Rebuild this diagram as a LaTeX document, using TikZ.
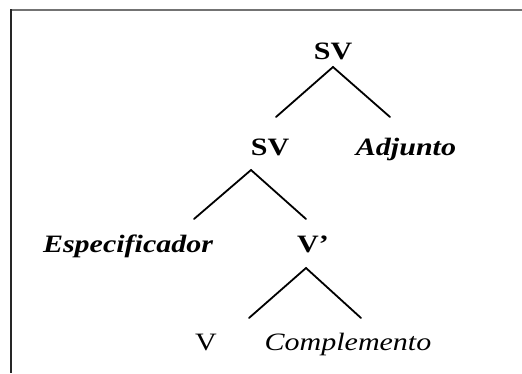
\documentclass[tikz,border=0pt]{standalone}
\usepackage{fontspec}
\setmainfont{Liberation Serif}[FakeStretch=1.2]
\begin{document}
\begin{tikzpicture}[x=1pt,y=1pt,
  lbl/.style={anchor=base,inner sep=0pt,font=\fontsize{25}{30}\selectfont},
  cat/.style={lbl,font=\fontsize{25}{30}\selectfont\bfseries},
  catb/.style={lbl,font=\fontsize{25}{30}\selectfont\bfseries\itshape},
  cati/.style={lbl,font=\fontsize{25}{30}\selectfont\itshape},
  branch/.style={line width=1.8pt,line cap=round,line join=miter}]
\useasboundingbox (0,0) rectangle (522,-373);
\fill[white] (0,0) rectangle (522,-373);
% frame
\draw[line width=2pt,color=black!55] (10,-9.5) -- (522,-9.5);
\draw[line width=2pt,color=black!85] (10.5,-9) -- (10.5,-373);
% nodes
\node[cat]  (sv1)  at (333,-59) {SV};
\node[cat]  (sv2)  at (270,-155) {SV};
\node[catb] (adj)  at (406,-155) {Adjunto};
\node[catb] (esp)  at (128,-252) {Especificador};
\node[cat]  (vbar) at (313,-252) {V’};
\node[lbl]  (v)    at (206,-350) {V};
\node[cati] (comp) at (348,-350) {Complemento};
% connector points
\coordinate (a1) at (333,-67);
\coordinate (l1) at (276,-117);
\coordinate (r1) at (390,-117);
\coordinate (a2) at (251,-170);
\coordinate (l2) at (194,-219);
\coordinate (r2) at (306,-219);
\coordinate (a3) at (306,-268);
\coordinate (l3) at (249,-318);
\coordinate (r3) at (361,-318);
\draw[branch] (l1) -- (a1) -- (r1);
\draw[branch] (l2) -- (a2) -- (r2);
\draw[branch] (l3) -- (a3) -- (r3);
\end{tikzpicture}
\end{document}
